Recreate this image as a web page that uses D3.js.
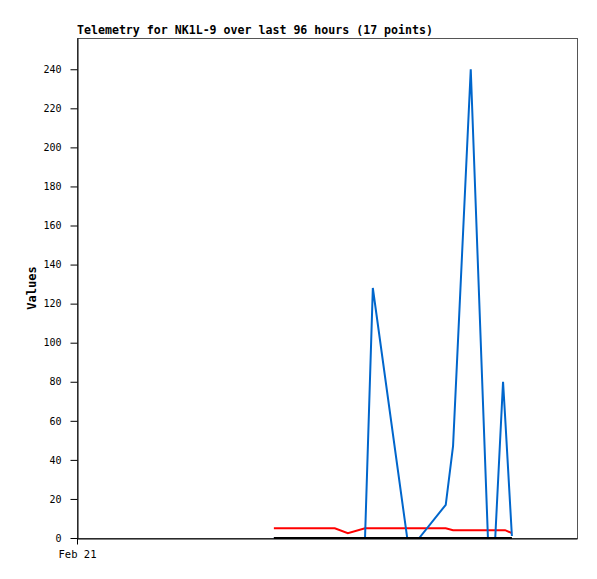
<title>Telemetry</title>

<script src="https://d3js.org/d3.v7.min.js"></script>
<style>
    body {
      margin: 0;
      background: #fff;
    }
    text {
      font-family: "DejaVu Sans Mono", monospace;
    }
</style>

<body>
    <div id="plot"></div>
</body>

<script>
    // hours after Feb 21 00:00 for each sample
    var hours = [37.8, 40.5, 46.5, 49.5, 52.0, 55.3, 56.8, 63.4, 65.7, 70.8, 72.2, 75.6, 78.9, 80.3, 81.8, 82.2, 83.5];
    var blueVals = [0, 0, 0, 0, 0, 0, 128, 0, 0, 17, 47, 240, 0, 0, 80, 62, 1];
    var redVals = [5, 5, 5, 5, 2.5, 5, 5, 5, 5, 5, 4, 4, 4, 4, 4, 4, 2.5];
    var blackVals = [0, 0, 0, 0, 0, 0, 0, 0, 0, 0, 0, 0, 0, 0, 0, 0, 0];
    var yTicks = [0, 20, 40, 60, 80, 100, 120, 140, 160, 180, 200, 220, 240];

    var title = "Telemetry for NK1L-9 over last 96 hours (17 points)";

    var margin = {top: 38, right: 20, bottom: 41, left: 77},
        width = 597 - margin.left - margin.right,
        height = 579 - margin.top - margin.bottom;

    var start = new Date(2021, 1, 21);
    var end = d3.timeHour.offset(start, 96);
    var times = hours.map(function (h) { return new Date(start.getTime() + h * 3600e3); });

    var svg = d3.select("#plot")
        .append("svg")
            .attr("width", width + margin.left + margin.right)
            .attr("height", height + margin.top + margin.bottom)
        .append("g")
            .attr("transform", "translate(" + margin.left + "," + margin.top + ")");

    var x = d3.scaleTime()
        .domain([start, end])
        .range([0, width]);

    var y = d3.scaleLinear()
        .domain([0, 256])
        .range([height, 0]);

    // frame
    svg.append("rect")
        .attr("x", 0.5)
        .attr("y", 0.5)
        .attr("width", width)
        .attr("height", height)
        .attr("fill", "none")
        .attr("stroke", "#555");

    // series
    function drawLine(vals, color) {
        var line = d3.line()
            .x(function (d, i) { return x(times[i]); })
            .y(function (d) { return y(d); });
        svg.append("path")
            .datum(vals)
            .attr("fill", "none")
            .attr("stroke", color)
            .attr("stroke-width", 2)
            .attr("d", line);
    }
    drawLine(redVals, "#ff0000");
    drawLine(blueVals, "#0066cc");
    drawLine(blackVals, "#000000");

    // Y axis
    var yAxis = svg.append("g")
        .attr("transform", "translate(0.5,0)")
        .call(d3.axisLeft(y).tickValues(yTicks).tickSize(7).tickPadding(9).tickSizeOuter(0));
    yAxis.selectAll("text")
        .attr("font-size", "10px")
        .attr("fill", "#000")
        .style("font-family", "'DejaVu Sans Mono', monospace");
    yAxis.selectAll("line, path").attr("stroke", "#000");

    // X axis
    var xAxis = svg.append("g")
        .attr("transform", "translate(0," + (height + 0.5) + ")")
        .call(d3.axisBottom(x).tickValues([start]).tickFormat(d3.timeFormat("%b %d")).tickSize(6).tickPadding(6).tickSizeOuter(0));
    xAxis.selectAll("text")
        .attr("font-size", "10.5px")
        .attr("fill", "#000")
        .style("font-family", "'DejaVu Sans Mono', monospace");
    xAxis.selectAll("line, path").attr("stroke", "#000");

    // title
    svg.append("text")
        .attr("x", 0)
        .attr("y", -4)
        .attr("font-size", "11.6px")
        .attr("font-weight", "bold")
        .text(title);

    // y label
    svg.append("text")
        .attr("transform", "rotate(-90)")
        .attr("x", -height / 2)
        .attr("y", -41)
        .attr("text-anchor", "middle")
        .attr("font-size", "12px")
        .attr("font-weight", "bold")
        .text("Values");
</script>
